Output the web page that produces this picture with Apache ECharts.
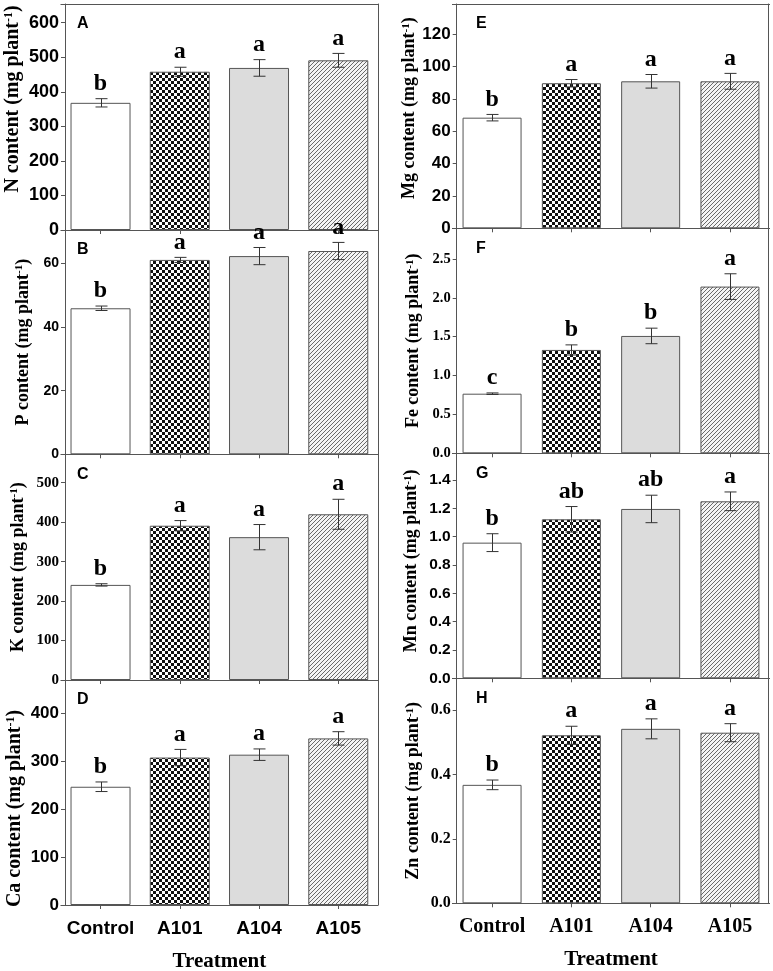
<!DOCTYPE html>
<html>
<head>
<meta charset="utf-8">
<script src="https://cdn.jsdelivr.net/npm/echarts@6/dist/echarts.min.js"></script>
<style>
html,body{margin:0;padding:0;background:#fff;}
#chart{width:773px;height:971px;}
</style>
</head>
<body>
<div id="chart"></div>
<script>
// ---------- DATA ----------
const categories = ['Control', 'A101', 'A104', 'A105'];

const nMean  = [368, 458, 469, 491];
const nErr   = [12, 13, 24, 20];
const nSig   = ['b', 'a', 'a', 'a'];
const nTicks = [0, 100, 200, 300, 400, 500, 600];

const pMean  = [45.9, 61.1, 62.3, 63.9];
const pErr   = [0.7, 0.8, 2.7, 2.7];
const pSig   = ['b', 'a', 'a', 'a'];
const pTicks = [0, 20, 40, 60];

const kMean  = [241, 391, 362, 420];
const kErr   = [3, 13, 32, 38];
const kSig   = ['b', 'a', 'a', 'a'];
const kTicks = [0, 100, 200, 300, 400, 500];

const caMean  = [247, 308, 314, 348];
const caErr   = [10, 17, 12, 14];
const caSig   = ['b', 'a', 'a', 'a'];
const caTicks = [0, 100, 200, 300, 400];

const mgMean  = [68.4, 89.7, 90.9, 90.9];
const mgErr   = [2.0, 2.3, 4.2, 4.9];
const mgSig   = ['b', 'a', 'a', 'a'];
const mgTicks = [0, 20, 40, 60, 80, 100, 120];

const feMean  = [0.767, 1.33, 1.51, 2.145];
const feErr   = [0.01, 0.065, 0.1, 0.165];
const feSig   = ['c', 'b', 'b', 'a'];
const feTicks = [0, 0.5, 1.0, 1.5, 2.0, 2.5];

const mnMean  = [0.958, 1.123, 1.196, 1.25];
const mnErr   = [0.063, 0.09, 0.097, 0.066];
const mnSig   = ['b', 'ab', 'ab', 'a'];
const mnTicks = [0, 0.2, 0.4, 0.6, 0.8, 1.0, 1.2, 1.4];

const znMean  = [0.368, 0.522, 0.542, 0.530];
const znErr   = [0.015, 0.028, 0.031, 0.028];
const znSig   = ['b', 'a', 'a', 'a'];
const znTicks = [0, 0.2, 0.4, 0.6];

const xTitle = 'Treatment';

// ---------- PATTERNS ----------
function checker() {
  const c = document.createElement('canvas'); c.width = 6; c.height = 6;
  const g = c.getContext('2d');
  g.fillStyle = '#ffffff'; g.fillRect(0, 0, 6, 6);
  g.fillStyle = '#111111'; g.fillRect(0, 0, 3, 3); g.fillRect(3, 3, 3, 3);
  return c;
}
function hatch() {
  const n = 4;
  const c = document.createElement('canvas'); c.width = n; c.height = n;
  const g = c.getContext('2d');
  g.fillStyle = '#f4f4f4'; g.fillRect(0, 0, n, n);
  g.strokeStyle = '#6a6a6a'; g.lineWidth = 1;
  g.beginPath();
  g.moveTo(0, n); g.lineTo(n, 0);
  g.moveTo(-1, 1); g.lineTo(1, -1);
  g.moveTo(n - 1, n + 1); g.lineTo(n + 1, n - 1);
  g.stroke();
  return c;
}
const fills = ['#ffffff', {image: checker(), repeat: 'repeat'}, '#dcdcdc', {image: hatch(), repeat: 'repeat'}];

// ---------- LAYOUT ----------
const SANS = 'Liberation Sans', SERIF = 'Liberation Serif';
const cols = [
  {left: 60.9, width: 317.0, axisOff: -4.1, rightOff: 0, rows: [4, 230, 454.3, 680, 905], xFont: SANS, xSize: 19, barW: 60},
  {left: 452.4, width: 317.2, axisOff: -4.3, rightOff: -1.6, rows: [4, 228.3, 453.3, 678.3, 903.3], xFont: SERIF, xSize: 20, barW: 59}
];

const panels = [
  {lab: 'A', el: 'N',  col: 0, row: 0, mean: nMean,  err: nErr,  sig: nSig,  ticks: nTicks,  max: 654,   font: SANS,  dec: 0, tSize: 18,   nSize: 20, gap: 42, shift: -18},
  {lab: 'B', el: 'P',  col: 0, row: 1, mean: pMean,  err: pErr,  sig: pSig,  ticks: pTicks,  max: 70.5,  font: SANS,  dec: 0, tSize: 14,   nSize: 18, gap: 33, shift: 0},
  {lab: 'C', el: 'K',  col: 0, row: 2, mean: kMean,  err: kErr,  sig: kSig,  ticks: kTicks,  max: 572,   font: SERIF, dec: 0, tSize: 15,   nSize: 18, gap: 38, shift: 0},
  {lab: 'D', el: 'Ca', col: 0, row: 3, mean: caMean, err: caErr, sig: caSig, ticks: caTicks, max: 470,   font: SANS,  dec: 0, tSize: 17,   nSize: 20, gap: 40, shift: 16},
  {lab: 'E', el: 'Mg', col: 1, row: 0, mean: mgMean, err: mgErr, sig: mgSig, ticks: mgTicks, max: 138.7, font: SANS,  dec: 0, tSize: 17,   nSize: 18, gap: 34, shift: -8},
  {lab: 'F', el: 'Fe', col: 1, row: 1, mean: feMean, err: feErr, sig: feSig, ticks: feTicks, max: 2.895, font: SERIF, dec: 1, tSize: 14.5, nSize: 18, gap: 34, shift: 0},
  {lab: 'G', el: 'Mn', col: 1, row: 2, mean: mnMean, err: mnErr, sig: mnSig, ticks: mnTicks, max: 1.589, font: SANS,  dec: 1, tSize: 15.5, nSize: 18, gap: 36, shift: -5},
  {lab: 'H', el: 'Zn', col: 1, row: 3, mean: znMean, err: znErr, sig: znSig, ticks: znTicks, max: 0.699, font: SERIF, dec: 1, tSize: 16,   nSize: 18, gap: 34, shift: 0}
];

const LINE = '#555555';
const grid = [], xAxis = [], yAxis = [], series = [], graphic = [];

panels.forEach((p, i) => {
  const c = cols[p.col];
  const top = c.rows[p.row], bottom = c.rows[p.row + 1];
  const isBottom = p.row === 3;
  grid.push({left: c.left, width: c.width, top: top, height: bottom - top, containLabel: false, outerBoundsMode: 'none', show: false});

  xAxis.push({
    type: 'category', gridIndex: i, data: categories, position: 'bottom',
    axisLine: {show: true, onZero: false, lineStyle: {color: LINE, width: 1}},
    axisTick: {show: true, alignWithLabel: true, interval: 0, length: 4, inside: false, lineStyle: {color: LINE}},
    axisLabel: {show: isBottom, interval: 0, margin: 14, color: '#000', fontFamily: c.xFont, fontWeight: 'bold', fontSize: c.xSize},
    name: isBottom ? xTitle : '', nameLocation: 'middle', nameGap: 46,
    nameTextStyle: {fontFamily: SERIF, fontWeight: 'bold', fontSize: 21, color: '#000'},
    splitLine: {show: false}
  });

  const pad = p.shift < 0 ? [0, 0, 0, -2 * p.shift] : [0, 2 * p.shift, 0, 0];
  yAxis.push({
    type: 'value', gridIndex: i, min: 0, max: p.max, position: 'left', offset: c.axisOff,
    axisLine: {show: true, onZero: false, lineStyle: {color: LINE, width: 1}},
    axisTick: {show: true, length: 4, inside: false, customValues: p.ticks, lineStyle: {color: LINE}},
    axisLabel: {show: true, margin: 6, customValues: p.ticks, color: '#000', fontFamily: p.font, fontWeight: 'bold',
      fontSize: p.tSize, formatter: v => Number(v).toFixed(p.dec)},
    splitLine: {show: false},
    name: '{t|' + p.el + ' content (mg plant}{s|-1}{t|)}',
    nameLocation: 'middle', nameRotate: 90, nameGap: p.gap,
    nameTextStyle: {
      padding: pad,
      rich: {
        t: {fontFamily: SERIF, fontWeight: 'bold', fontSize: p.nSize, color: '#000'},
        s: {fontFamily: SERIF, fontWeight: 'bold', fontSize: Math.round(p.nSize * 0.6), color: '#000', verticalAlign: 'top'}
      }
    }
  });

  series.push({
    type: 'bar', xAxisIndex: i, yAxisIndex: i, barWidth: c.barW,
    data: p.mean.map((v, k) => ({value: v, itemStyle: {color: fills[k], borderColor: LINE, borderWidth: 1}})),
    silent: true, animation: false
  });

  series.push({
    type: 'custom', xAxisIndex: i, yAxisIndex: i, clip: false, z: 5, animation: false, silent: true,
    encode: {x: 0, y: 1},
    data: p.mean.map((v, k) => [k, v, p.err[k]]),
    renderItem: (params, api) => {
      const x = api.value(0), m = api.value(1), e = api.value(2);
      const t = api.coord([x, m + e]);
      const b = api.coord([x, m - e]);
      const cx = Math.round(t[0]) + 0.5;
      const hw = 6;
      const st = {stroke: '#333333', lineWidth: 1};
      return {type: 'group', children: [
        {type: 'line', shape: {x1: cx, y1: t[1], x2: cx, y2: b[1]}, style: st},
        {type: 'line', shape: {x1: cx - hw, y1: t[1], x2: cx + hw, y2: t[1]}, style: st},
        {type: 'line', shape: {x1: cx - hw, y1: b[1], x2: cx + hw, y2: b[1]}, style: st},
        {type: 'text', x: t[0], y: t[1] - 3, style: {text: p.sig[params.dataIndex], fill: '#000',
          font: 'bold 24px "Liberation Serif"', textAlign: 'center', textVerticalAlign: 'bottom'}}
      ]};
    }
  });

  graphic.push({type: 'text', left: p.col === 0 ? 77 : 476, top: top + 12,
    style: {text: p.lab, fill: '#000', font: 'bold 16px "Liberation Sans"'}});
});

// frame lines: right border (extra y axes) and top border (extra x axes)
panels.forEach((p, i) => {
  const c = cols[p.col];
  yAxis.push({type: 'value', gridIndex: i, min: 0, max: p.max, position: 'right', offset: c.rightOff,
    axisLine: {show: true, onZero: false, lineStyle: {color: LINE, width: 1}}, axisTick: {show: false}, axisLabel: {show: false}, splitLine: {show: false}});
  if (p.row === 0) {
    xAxis.push({type: 'category', gridIndex: i, data: categories, position: 'top',
      axisLine: {show: true, onZero: false, lineStyle: {color: LINE, width: 1}}, axisTick: {show: false}, axisLabel: {show: false}, splitLine: {show: false}});
  }
});

const chart = echarts.init(document.getElementById('chart'), null, {renderer: 'canvas'});
chart.setOption({
  backgroundColor: '#ffffff',
  animation: false,
  grid, xAxis, yAxis, series, graphic
});
</script>
</body>
</html>
